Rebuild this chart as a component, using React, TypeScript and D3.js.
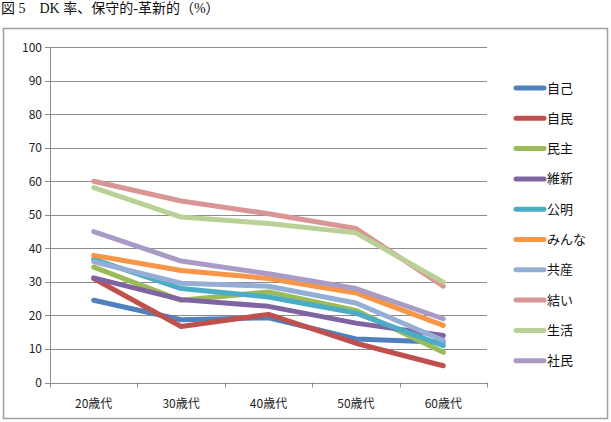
import React from "react";
import * as d3 from "d3";

const categories = ["20歳代", "30歳代", "40歳代", "50歳代", "60歳代"];
const seriesNames = ["自己", "自民", "民主", "維新", "公明", "みんな", "共産", "結い", "生活", "社民"];
const seriesColors = ["#4F81BD", "#C0504D", "#9BBB59", "#8064A2", "#4BACC6", "#F79646", "#95AED6", "#D99694", "#B9D197", "#A99BC6"];
const v自己 = [24.5, 18.7, 19.3, 13, 12];
const v自民 = [31, 16.7, 20.3, 11.7, 5];
const v民主 = [34.4, 24.5, 27, 21.5, 9];
const v維新 = [31.2, 24.7, 22.7, 17.7, 14];
const v公明 = [36.8, 28, 25.5, 20.7, 11];
const vみんな = [37.9, 33.4, 31, 26.7, 17];
const v共産 = [36, 29.6, 28.7, 23.7, 12.5];
const v結い = [60, 54.1, 50.3, 45.9, 28.7];
const v生活 = [58.1, 49.3, 47.4, 44.6, 29.9];
const v社民 = [45, 36.2, 32.4, 28, 19];
const yTicks = [0, 10, 20, 30, 40, 50, 60, 70, 80, 90, 100];
const title = "図 5　DK 率、保守的‐革新的（%）";

const seriesValues = [v自己, v自民, v民主, v維新, v公明, vみんな, v共産, v結い, v生活, v社民];

export default function App() {
  const W = 611, H = 422;
  const left = 50, right = 487, top = 47, bottom = 382.5;
  const x = d3.scaleBand().domain(categories).range([left, right]);
  const y = d3.scaleLinear().domain([0, 100]).range([bottom, top]);
  const line = d3.line<number>()
    .x((_, i) => (x(categories[i]) as number) + x.bandwidth() / 2)
    .y((d) => y(d));
  const font = "'Noto Sans CJK JP', 'Noto Sans', sans-serif";
  const bounds = [...categories.map((c) => x(c) as number), right];
  return (
    <svg width={W} height={H} style={{ position: "absolute", left: 0, top: 0 }}>
      <rect x={0} y={0} width={W} height={H} fill="#fff" />
      <text x={1} y={13} fontFamily="'Liberation Serif', 'Noto Sans CJK JP', serif" fontSize={14} fill="#111">{title}</text>
      <rect x={3.5} y={28.5} width={604} height={390} fill="#fff" stroke="#a0a0a0" strokeWidth={1.5} />
      {yTicks.map((t) => (
        <g key={t}>
          <line x1={left - 5} x2={right} y1={Math.round(y(t)) + 0.5} y2={Math.round(y(t)) + 0.5} stroke="#8c8c8c" strokeWidth={1} />
          <text x={left - 8} y={y(t) + 4.5} textAnchor="end" fontFamily={font} fontSize={12} fill="#222">{t}</text>
        </g>
      ))}
      <line x1={left + 0.5} x2={left + 0.5} y1={top} y2={bottom} stroke="#8c8c8c" />
      {bounds.map((b, i) => (
        <line key={i} x1={Math.round(b) + 0.5} x2={Math.round(b) + 0.5} y1={bottom} y2={bottom + 5} stroke="#8c8c8c" />
      ))}
      {categories.map((c) => (
        <text key={c} x={(x(c) as number) + x.bandwidth() / 2} y={408} textAnchor="middle" fontFamily={font} fontSize={12} fill="#222">{c}</text>
      ))}
      {seriesValues.map((vals, i) => (
        <path key={i} d={line(vals) as string} fill="none" stroke={seriesColors[i]} strokeWidth={5} strokeLinejoin="round" strokeLinecap="round" />
      ))}
      {seriesNames.map((n, i) => {
        const ly = 88 + i * 30.3;
        return (
          <g key={n}>
            <line x1={516} x2={544} y1={ly} y2={ly} stroke={seriesColors[i]} strokeWidth={5} strokeLinecap="round" />
            <text x={547} y={ly + 4.5} fontFamily={font} fontSize={13} fill="#111">{n}</text>
          </g>
        );
      })}
    </svg>
  );
}
